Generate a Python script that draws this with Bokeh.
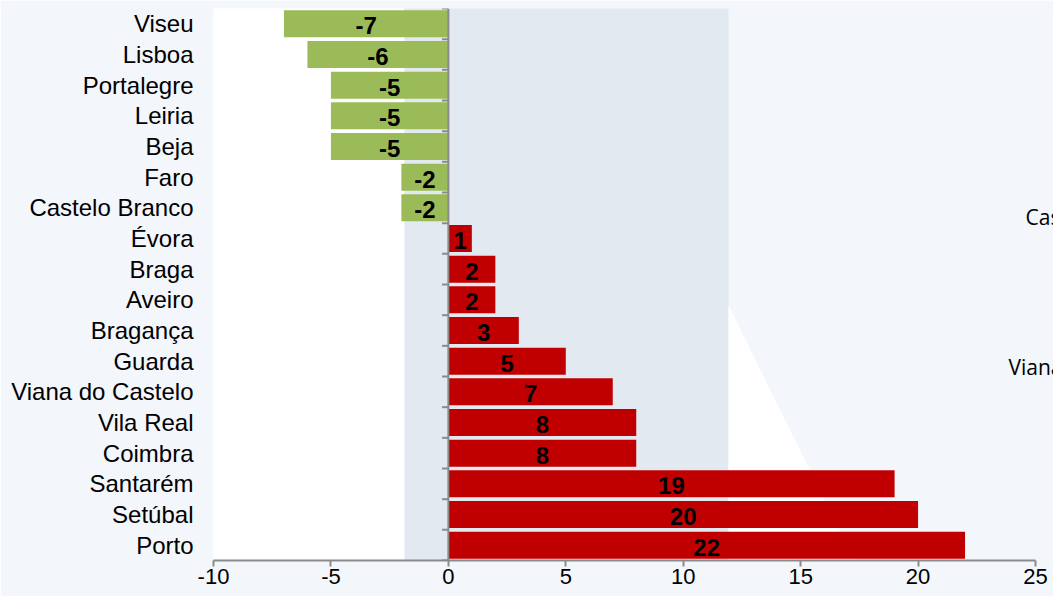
from bokeh.plotting import figure
from bokeh.models import FactorRange, Range1d, FixedTicker, Span, BoxAnnotation, PolyAnnotation, Label
from bokeh.core.properties import value
from bokeh.embed import file_html
from bokeh.resources import INLINE

# ---- data (top to bottom as in the chart) ----
districts = ["Viseu", "Lisboa", "Portalegre", "Leiria", "Beja", "Faro", "Castelo Branco",
             "Évora", "Braga", "Aveiro", "Bragança", "Guarda", "Viana do Castelo",
             "Vila Real", "Coimbra", "Santarém", "Setúbal", "Porto"]
values = [-7, -6, -5, -5, -5, -2, -2, 1, 2, 2, 3, 5, 7, 8, 8, 19, 20, 22]
x_ticks = [-10, -5, 0, 5, 10, 15, 20, 25]
stray_texts = ["Castelo Branco", "Viana do Castelo"]

GREEN = "#9bbb59"
RED = "#c00000"
AXIS = "#8a8a8a"
FONT = "Liberation Sans"

colors = [GREEN if v < 0 else RED for v in values]

W, H = 1053, 596
LEFT = 213
AXIS_RIGHT = 1035           # pixel where the last tick (25) sits
px_per_unit = (AXIS_RIGHT - LEFT) / (x_ticks[-1] - x_ticks[0])
x_end = x_ticks[-1] + (W - AXIS_RIGHT) / px_per_unit   # frame runs to the right edge

p = figure(width=W, height=H,
           y_range=FactorRange(*districts[::-1], range_padding=0),
           x_range=Range1d(x_ticks[0], x_end),
           output_backend="svg", toolbar_location=None,
           min_border_left=LEFT, min_border_right=0,
           min_border_top=8, min_border_bottom=36)

p.border_fill_color = "#f3f6fb"
p.background_fill_color = "#f3f6fb"
p.outline_line_color = None
p.xgrid.grid_line_color = None
p.ygrid.grid_line_color = None

# decorative slide background
p.add_layout(BoxAnnotation(left=168, right=404, top=0, bottom=H,
                           left_units="canvas", right_units="canvas",
                           top_units="canvas", bottom_units="canvas",
                           fill_color="#ffffff", fill_alpha=1, line_color=None, level="underlay"))
p.add_layout(BoxAnnotation(left=404, right=728, top=0, bottom=H,
                           left_units="canvas", right_units="canvas",
                           top_units="canvas", bottom_units="canvas",
                           fill_color="#e3e9f1", fill_alpha=1, line_color=None, level="underlay"))
p.add_layout(PolyAnnotation(xs=[728, 872, 728], ys=[305, H, H],
                            xs_units="canvas", ys_units="canvas",
                            fill_color="#ffffff", fill_alpha=1, line_color=None, level="underlay"))

# bars
p.hbar(y=districts, left=0, right=values, height=0.88, fill_color=colors, line_color=None)

# value labels
p.text(x=[v / 2 for v in values], y=districts, text=[str(v) for v in values],
       text_font=value(FONT), text_font_style="bold", text_font_size="24px",
       text_align="center", text_baseline="middle", y_offset=2, text_color="#000000")

# vertical axis at zero with ticks between categories
p.add_layout(Span(location=0, dimension="height", line_color=AXIS, line_width=2))
bounds = list(range(len(districts) + 1))
p.segment(x0=[-0.27] * len(bounds), x1=[0] * len(bounds), y0=bounds, y1=bounds,
          line_color=AXIS, line_width=2)

# axes
xa = p.xaxis[0]
xa.ticker = FixedTicker(ticks=x_ticks)
xa.bounds = (x_ticks[0], x_ticks[-1])
xa.major_label_overrides = {t: str(t) for t in x_ticks}
xa.axis_line_color = AXIS
xa.axis_line_width = 2
xa.major_tick_line_color = AXIS
xa.major_tick_line_width = 2
xa.major_tick_in = 0
xa.major_tick_out = 6
xa.minor_tick_line_color = None
xa.major_label_text_font = FONT
xa.major_label_text_font_size = "22px"
xa.major_label_text_color = "#000000"
xa.major_label_standoff = 2

ya = p.yaxis[0]
ya.axis_line_color = None
ya.major_tick_line_color = None
ya.minor_tick_line_color = None
ya.major_tick_out = 0
ya.major_tick_in = 0
ya.major_label_text_font = FONT
ya.major_label_text_font_size = "24px"
ya.major_label_text_color = "#000000"
ya.major_label_standoff = 20

# stray slide texts cut at the right edge (as in the reference)
p.add_layout(Label(x=1025, y=216, x_units="canvas", y_units="canvas", text=stray_texts[0],
                   text_font="Open Sans", text_font_size="21px",
                   text_baseline="middle", text_color="#000000"))
p.add_layout(Label(x=1008, y=366, x_units="canvas", y_units="canvas", text=stray_texts[1],
                   text_font="Open Sans", text_font_size="21px",
                   text_baseline="middle", text_color="#000000"))

open("out.html", "w").write(file_html(p, INLINE))
